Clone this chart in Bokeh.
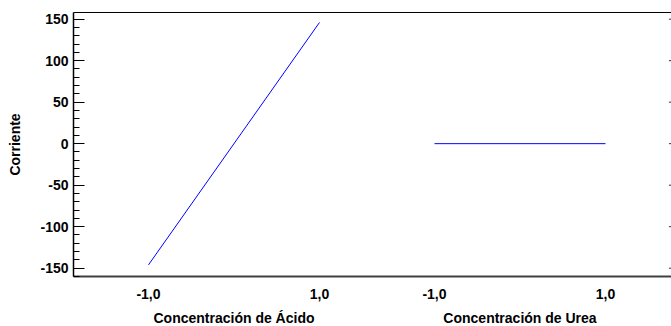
from bokeh.plotting import figure
from bokeh.layouts import column
from bokeh.models import LinearAxis, FixedTicker, Range1d
from bokeh.core.properties import value
from bokeh.embed import file_html
from bokeh.resources import INLINE

# ---- data ----
acido_x = [-1.0, 1.0]
acido_y = [-146.0, 146.0]
urea_x = [-1.0, 1.0]
urea_y = [0.0, 0.0]
x_ticks = [-1.0, 1.0]
x_tick_labels = ["-1,0", "1,0"]
y_ticks = [-150, -100, -50, 0, 50, 100, 150]
y_tick_labels = ["-150", "-100", "-50", "0", "50", "100", "150"]
y_minor = [v for v in range(-160, 161, 10) if v not in y_ticks]
x_labels = ["Concentración de Ácido", "Concentración de Urea"]
y_label = "Corriente"

# ---- layout (panel offset for the second factor) ----
FONT = "Liberation Sans"
FS = "14px"
X0, X1 = -1.877, 5.117
Y0, Y1 = -160, 158
UREA_OFFSET = 3.345
urea_pos = [v + UREA_OFFSET for v in urea_x]
urea_tick_pos = [v + UREA_OFFSET for v in x_ticks]
XR = Range1d(X0, X1)

p = figure(width=671, height=306, x_range=XR, y_range=Range1d(Y0, Y1),
           output_backend="svg", toolbar_location=None,
           min_border_left=73, min_border_right=0, min_border_top=12, min_border_bottom=30)
p.outline_line_color = None
p.grid.visible = False

p.line(acido_x, acido_y, line_color="#0000ff", line_width=1)
p.line(urea_pos, urea_y, line_color="#0000ff", line_width=1)

# bottom axis
xa = p.xaxis[0]
all_ticks = x_ticks + urea_tick_pos
xa.ticker = FixedTicker(ticks=all_ticks)
xa.major_label_overrides = {t: lab for t, lab in zip(all_ticks, x_tick_labels + x_tick_labels)}
xa.major_tick_line_color = None
xa.minor_tick_line_color = None
xa.axis_line_color = "#404040"
xa.axis_line_width = 2
xa.major_label_text_font = FONT
xa.major_label_text_font_style = "bold"
xa.major_label_text_font_size = FS
xa.major_label_text_color = "black"
xa.major_label_standoff = 6

# left axis
ya = p.yaxis[0]
ya.ticker = FixedTicker(ticks=y_ticks, minor_ticks=y_minor)
ya.major_label_overrides = dict(zip(y_ticks, y_tick_labels))
ya.major_tick_in = 11
ya.major_tick_out = 0
ya.minor_tick_in = 6
ya.minor_tick_out = 0
ya.major_tick_line_color = "black"
ya.minor_tick_line_color = "black"
ya.axis_line_color = "black"
ya.axis_line_width = 1.5
ya.major_label_text_font = FONT
ya.major_label_text_font_style = "bold"
ya.major_label_text_font_size = FS
ya.major_label_text_color = "black"
ya.major_label_standoff = 5
ya.axis_label = y_label
ya.axis_label_text_font = FONT
ya.axis_label_text_font_style = "bold"
ya.axis_label_text_font_size = FS
ya.axis_label_text_color = "black"
ya.axis_label_standoff = 14

# top border
top = LinearAxis(ticker=FixedTicker(ticks=[]))
top.major_tick_line_color = None
top.minor_tick_line_color = None
top.axis_line_color = "black"
top.axis_line_width = 1
p.add_layout(top, "above")

# small right-side tick marks
n = len(y_ticks)
p.segment(x0=[X1] * n, x1=[X1 - 0.03] * n, y0=y_ticks, y1=y_ticks,
          line_color="#333333", line_width=1)

# strip underneath with the factor titles, sharing the x range
q = figure(width=671, height=20, x_range=XR, y_range=Range1d(0, 1),
           output_backend="svg", toolbar_location=None,
           x_axis_location=None, y_axis_location=None,
           min_border_left=73, min_border_right=0, min_border_top=0, min_border_bottom=0)
q.outline_line_color = None
q.grid.visible = False
centers = [sum(x_ticks) / 2, sum(urea_tick_pos) / 2]
q.text(x=centers, y=[0.45, 0.45], text=x_labels,
       text_align="center", text_baseline="middle",
       text_font=value(FONT), text_font_style="bold",
       text_font_size=value(FS), text_color="black")

layout = column(p, q, spacing=0)
open("out.html", "w").write(file_html(layout, INLINE))
